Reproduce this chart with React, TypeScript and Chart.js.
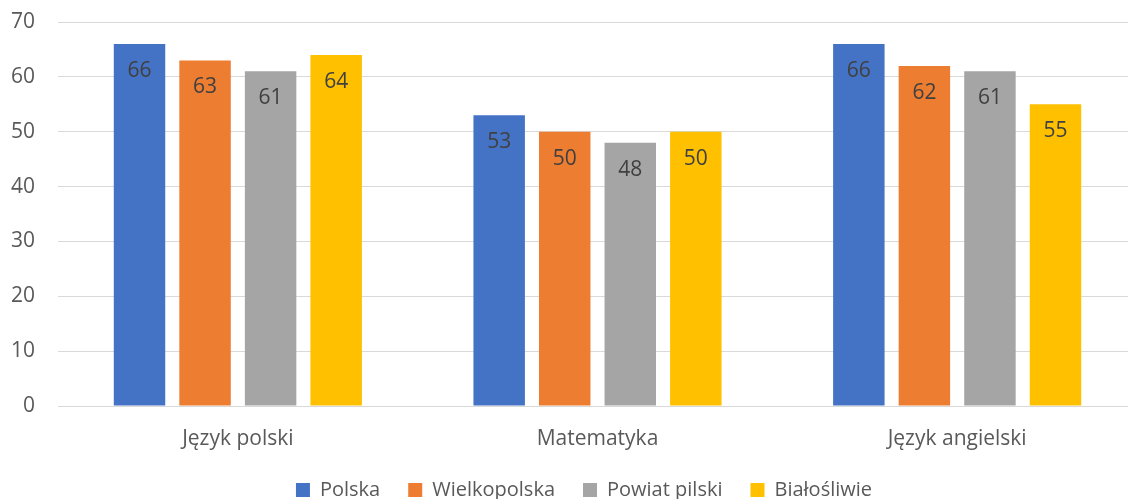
import React, { useEffect, useRef } from "react";
import { Chart, registerables } from "chart.js";

Chart.register(...registerables);

const categories = ["Język polski", "Matematyka", "Język angielski"];
const seriesNames = ["Polska", "Wielkopolska", "Powiat pilski", "Białośliwie"];
const polska = [66, 53, 66];
const wielkopolska = [63, 50, 62];
const powiatPilski = [61, 48, 61];
const bialosliwie = [64, 50, 55];
const seriesColors = ["#4472C4", "#ED7D31", "#A5A5A5", "#FFC000"];
const yTicks = [0, 10, 20, 30, 40, 50, 60, 70];

const FONT = "'Open Sans', 'Noto Sans', sans-serif";

const dataLabels = {
  id: "dataLabels",
  afterDatasetsDraw(chart: any) {
    const ctx = chart.ctx;
    ctx.save();
    ctx.font = `21px ${FONT}`;
    ctx.fillStyle = "#404040";
    ctx.textAlign = "center";
    ctx.textBaseline = "middle";
    chart.data.datasets.forEach((ds: any, i: number) => {
      const meta = chart.getDatasetMeta(i);
      meta.data.forEach((bar: any, j: number) => {
        ctx.fillText(String(ds.data[j]), bar.x, bar.y + 27);
      });
    });
    ctx.restore();
  },
};

export default function App() {
  const ref = useRef<HTMLCanvasElement | null>(null);

  useEffect(() => {
    if (!ref.current) return;
    const values = [polska, wielkopolska, powiatPilski, bialosliwie];
    const chart = new Chart(ref.current, {
      type: "bar",
      data: {
        labels: categories,
        datasets: seriesNames.map((name, i) => ({
          label: name,
          data: values[i],
          backgroundColor: seriesColors[i],
          borderWidth: 0,
          categoryPercentage: 0.729,
          barPercentage: 0.785,
        })),
      },
      options: {
        responsive: false,
        animation: false,
        layout: { padding: { top: 22, left: 0, right: 0, bottom: 0 } },
        plugins: {
          tooltip: { enabled: false },
          legend: {
            position: "bottom",
            labels: {
              font: { size: 20, family: FONT },
              color: "#595959",
              boxWidth: 14,
              boxHeight: 14,
              padding: 28,
            },
          },
        },
        scales: {
          x: {
            grid: { display: false },
            border: { display: false },
            ticks: {
              font: { size: 21, family: FONT },
              color: "#595959",
              padding: 12,
              maxRotation: 0,
            },
            afterFit: (s: any) => {
              s.height = 46;
            },
          },
          y: {
            min: 0,
            max: 70,
            afterBuildTicks: (s: any) => {
              s.ticks = yTicks.map((v) => ({ value: v }));
            },
            grid: {
              color: "#D9D9D9",
              lineWidth: 1,
              drawTicks: true,
              tickLength: 23,
              tickColor: "rgba(0,0,0,0)",
            },
            border: { display: false },
            ticks: {
              font: { size: 21, family: FONT },
              color: "#595959",
              padding: 0,
            },
            afterFit: (s: any) => {
              s.width = 58;
            },
          },
          yRight: {
            position: "right",
            display: true,
            grid: { display: false },
            border: { display: false },
            ticks: { display: false },
            afterFit: (s: any) => {
              s.width = 31;
            },
          },
        },
      },
      plugins: [dataLabels],
    });
    return () => chart.destroy();
  }, []);

  return (
    <div
      style={{
        position: "fixed",
        left: 0,
        top: 0,
        width: 1128,
        height: 499,
        overflow: "hidden",
        background: "#FFFFFF",
      }}
    >
      <canvas ref={ref} width={1168} height={510} style={{ display: "block" }} />
    </div>
  );
}
